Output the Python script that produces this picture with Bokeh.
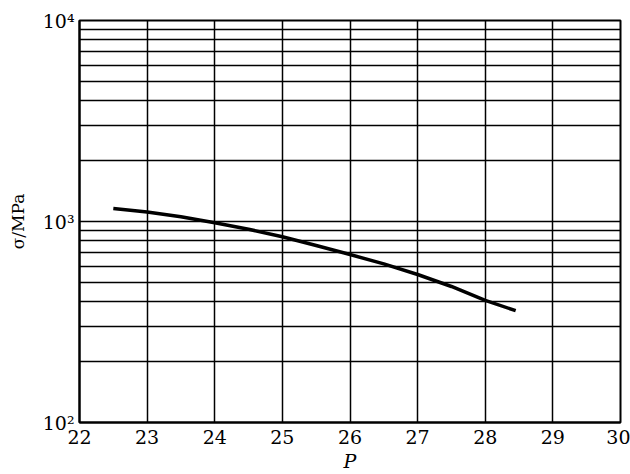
from bokeh.plotting import figure
from bokeh.models import Range1d, FixedTicker
from bokeh.embed import file_html
from bokeh.resources import INLINE

# data
P = [22.5, 23.0, 23.5, 24.0, 24.5, 25.0, 25.5, 26.0, 26.5, 27.0, 27.5, 28.0, 28.45]
sigma = [1160, 1115, 1055, 985, 915, 840, 760, 685, 615, 545, 475, 405, 360]

x_ticks = [22, 23, 24, 25, 26, 27, 28, 29, 30]
y_major = [100, 1000, 10000]
y_minor = [200, 300, 400, 500, 600, 700, 800, 900,
           2000, 3000, 4000, 5000, 6000, 7000, 8000, 9000]
y_labels = {100: "10²", 1000: "10³", 10000: "10⁴"}

FONT = "DejaVu Serif"

p = figure(width=630, height=474, y_axis_type="log",
           x_range=Range1d(22, 30), y_range=Range1d(100, 10000),
           output_backend="svg", toolbar_location=None,
           min_border_left=79, min_border_right=10,
           min_border_top=20, min_border_bottom=10)

p.outline_line_color = "black"
p.outline_line_width = 2

p.xaxis.ticker = FixedTicker(ticks=x_ticks)
p.yaxis.ticker = FixedTicker(ticks=y_major, minor_ticks=y_minor)
p.yaxis.major_label_overrides = y_labels

for ax in (p.xaxis, p.yaxis):
    ax.axis_line_color = "black"
    ax.axis_line_width = 2
    ax.major_tick_out = 0
    ax.major_tick_in = 0
    ax.minor_tick_out = 0
    ax.minor_tick_in = 0
    ax.major_label_text_font = FONT
    ax.major_label_text_font_size = "19px"
    ax.major_label_text_color = "black"
p.xaxis.major_label_standoff = 7
p.yaxis.major_label_standoff = 5

p.xgrid.grid_line_color = "black"
p.xgrid.grid_line_width = 1.5
p.ygrid.grid_line_color = "black"
p.ygrid.grid_line_width = 1.5
p.ygrid.minor_grid_line_color = "black"
p.ygrid.minor_grid_line_width = 1.5

p.yaxis.axis_label = "σ/MPa"
p.yaxis.axis_label_text_font = FONT
p.yaxis.axis_label_text_font_style = "normal"
p.yaxis.axis_label_text_font_size = "17px"
p.yaxis.axis_label_text_color = "black"
p.yaxis.axis_label_standoff = 12

p.xaxis.axis_label = "P"
p.xaxis.axis_label_text_font = FONT
p.xaxis.axis_label_text_font_style = "italic"
p.xaxis.axis_label_text_font_size = "19px"
p.xaxis.axis_label_text_color = "black"
p.xaxis.axis_label_standoff = 3

p.line(P, sigma, line_color="black", line_width=3.5)

open("out.html", "w").write(file_html(p, INLINE))
